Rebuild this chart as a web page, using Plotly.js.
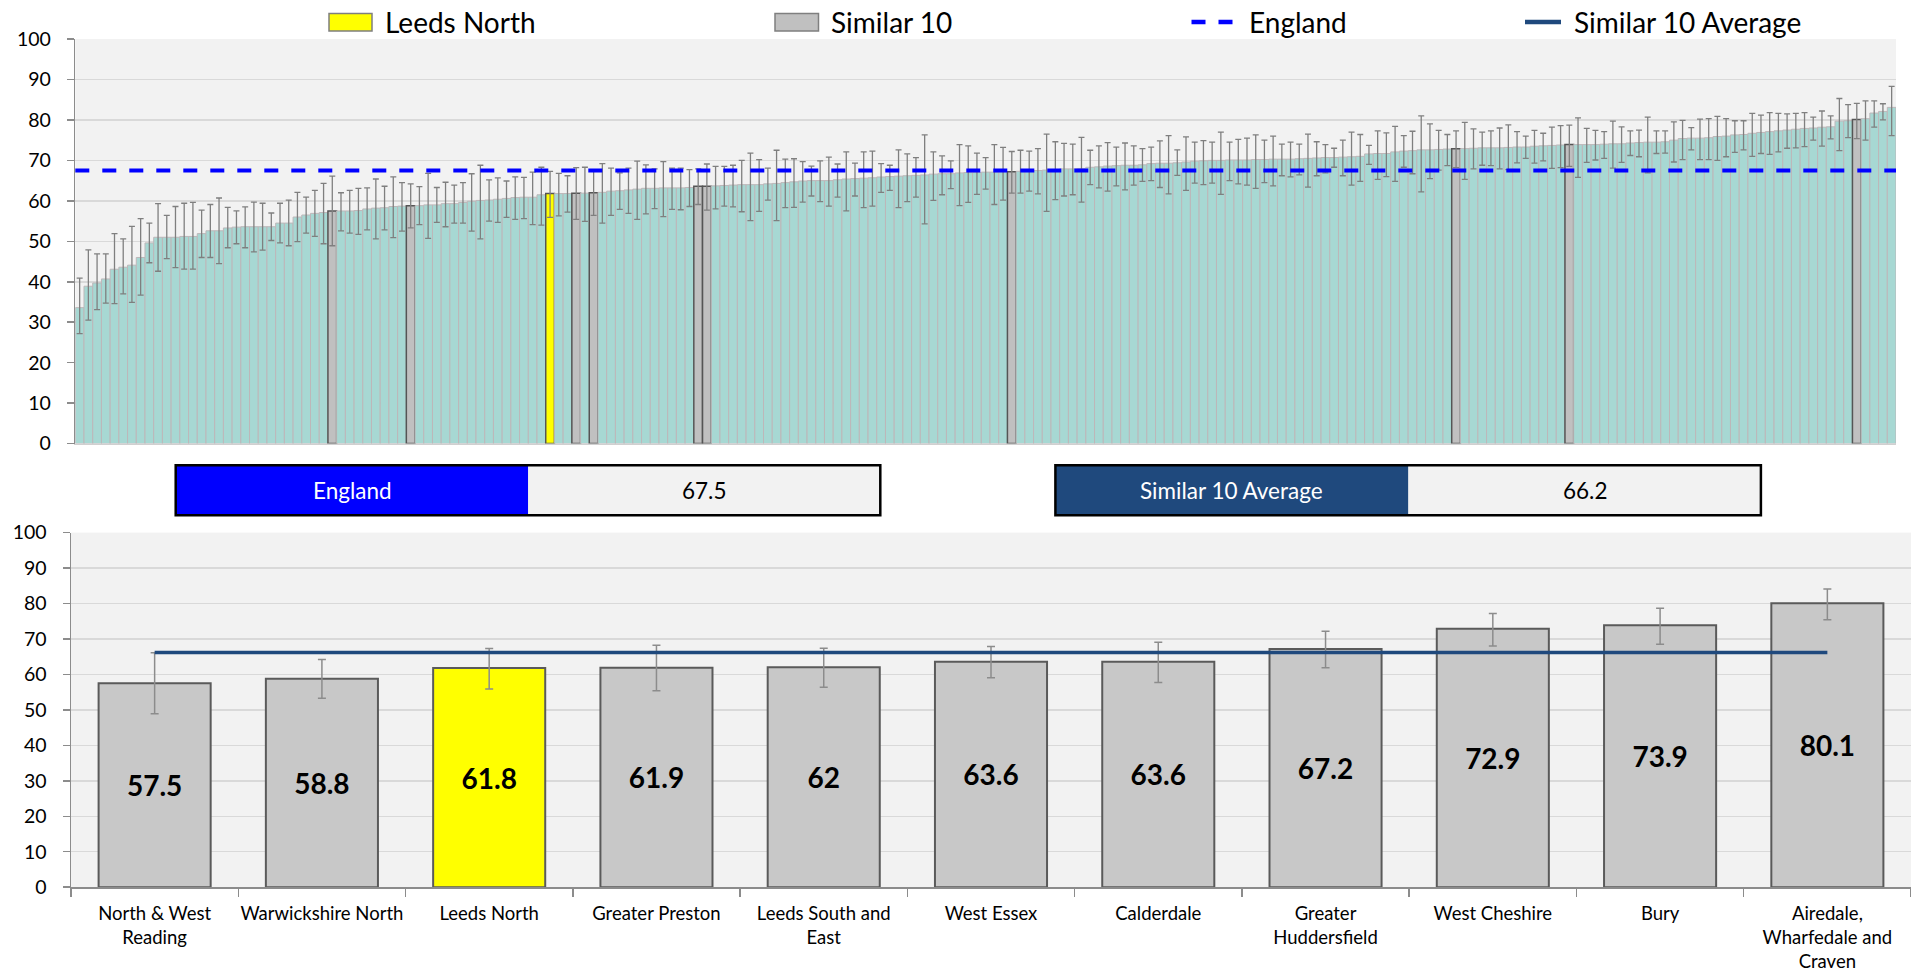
<!DOCTYPE html>
<html>
<head>
<meta charset="utf-8">
<script src="https://cdn.plot.ly/plotly-3.0.1.min.js"></script>
<style>html,body{margin:0;padding:0;background:#fff;}#chart{width:1911px;height:974px;}</style>
</head>
<body>
<div id="chart"></div>
<script>
// ---------- DATA ----------
// All CCGs in England, ranked ascending (value, lower CI, upper CI)
const englandValues = [
33.6,38.9,39.7,40.7,43.1,43.6,44.1,46.0,49.6,51.0,51.0,51.0,51.2,51.2,51.9,52.6,52.6,53.3,53.5,53.6,
53.6,53.6,53.6,54.5,54.5,56.0,56.5,56.9,57.1,57.5,57.5,57.5,57.6,58.0,58.2,58.3,58.6,58.7,58.8,58.8,
59.0,59.0,59.3,59.3,59.6,59.9,60.1,60.2,60.4,60.6,60.8,60.9,60.9,61.5,61.8,61.8,61.8,61.9,61.9,62.0,
62.1,62.4,62.5,62.7,62.9,63.1,63.1,63.2,63.2,63.2,63.3,63.6,63.6,63.7,63.8,63.9,64.0,64.0,64.0,64.2,
64.3,64.5,64.7,64.9,65.0,65.0,65.0,65.2,65.4,65.5,65.6,65.7,65.9,66.0,66.1,66.2,66.3,66.4,66.6,66.7,
66.7,66.9,67.0,67.0,67.1,67.1,67.2,67.2,67.3,67.4,67.5,67.6,67.7,67.9,67.9,68.0,68.3,68.4,68.6,68.7,
68.8,68.8,68.9,69.2,69.3,69.3,69.4,69.6,69.8,69.9,70.0,70.0,70.1,70.1,70.1,70.2,70.2,70.3,70.3,70.3,
70.4,70.5,70.6,70.7,70.7,70.8,70.9,71.0,71.6,71.7,71.7,72.1,72.3,72.4,72.6,72.6,72.7,72.8,72.9,72.9,
73.0,73.1,73.1,73.1,73.2,73.3,73.3,73.5,73.6,73.7,73.8,73.9,73.9,73.9,73.9,74.0,74.1,74.1,74.3,74.4,
74.5,74.5,74.6,75.0,75.4,75.5,75.5,75.6,75.9,76.0,76.3,76.4,76.7,76.9,77.1,77.3,77.5,77.7,77.9,78.0,
78.2,78.3,79.7,79.8,80.1,80.3,81.7,82.1,83.1
];
const englandLower = [
27.2,30.5,33.1,34.7,34.6,37.0,34.9,36.7,44.7,42.6,45.7,43.5,43.1,43.1,46.0,46.0,44.5,48.4,49.4,48.4,
47.4,47.8,50.2,49.6,48.9,49.9,52.0,51.2,49.4,48.9,52.6,52.0,51.7,52.8,50.6,52.8,50.9,52.5,53.3,54.1,
50.7,54.7,53.6,54.5,54.5,52.5,50.6,55.0,54.7,55.9,55.4,55.6,54.1,54.0,55.9,56.3,57.2,55.4,54.9,56.4,
54.5,56.4,57.9,56.9,55.4,56.8,58.1,56.1,57.9,57.8,58.6,59.1,57.7,58.0,58.7,58.5,57.3,55.1,57.4,60.2,
55.1,58.3,58.4,59.7,61.2,59.8,58.7,60.9,57.5,61.2,58.3,58.7,62.1,62.6,58.3,59.8,60.9,54.3,60.1,61.5,
63.0,58.8,59.6,61.6,62.9,59.1,60.2,61.9,61.9,62.4,61.7,57.4,60.3,61.2,61.5,59.7,64.0,63.2,62.4,63.7,
62.7,63.9,64.8,65.0,63.3,61.7,66.3,62.6,64.4,64.0,64.4,61.6,65.0,64.2,63.9,63.1,64.5,63.7,66.2,65.9,
66.4,63.4,66.2,66.9,68.3,66.2,63.9,64.8,69.0,65.3,66.0,64.8,68.3,66.7,62.2,65.5,67.6,68.7,68.2,65.3,
67.9,68.8,68.7,67.9,67.7,69.4,70.5,69.3,69.9,68.0,68.2,68.5,65.8,69.5,70.1,70.5,68.1,69.5,71.2,70.9,
66.9,71.7,71.8,69.6,70.2,72.6,70.2,70.2,70.0,70.9,72.0,72.6,71.0,71.7,71.5,72.1,73.0,73.1,73.4,75.0,
73.5,75.3,72.4,75.6,75.4,75.0,78.2,80.0,76.1
];
const englandUpper = [
40.9,47.9,46.9,46.9,51.9,50.6,53.7,55.6,54.5,59.3,56.4,58.6,59.4,59.6,57.7,59.1,60.7,58.4,57.5,58.5,
59.7,59.4,57.0,59.4,60.2,62.1,60.9,62.6,64.3,66.1,62.0,62.6,63.1,63.2,65.4,63.6,65.9,64.5,64.2,63.5,
66.8,63.3,64.6,63.9,64.5,66.7,68.8,65.2,65.7,64.9,65.9,65.8,67.1,68.3,67.3,66.8,66.2,68.2,68.3,67.4,
69.2,68.1,66.9,68.1,69.8,68.9,67.9,69.7,68.1,68.1,67.7,67.9,69.1,68.5,68.5,68.8,70.0,71.8,70.2,68.1,
72.5,70.3,70.4,69.7,68.6,69.9,70.8,69.1,72.1,69.3,72.1,72.3,69.2,68.8,72.6,71.6,70.7,76.3,72.1,71.1,
69.9,73.9,73.6,71.8,70.7,73.9,73.2,72.2,72.5,72.3,72.9,76.5,74.6,74.2,74.0,75.7,72.5,73.6,74.4,73.3,
74.3,73.6,72.9,73.3,74.8,76.1,72.6,75.8,74.5,74.9,74.5,77.0,74.5,75.2,75.5,76.3,75.0,76.0,74.0,74.5,
74.0,76.5,74.6,73.9,73.0,75.0,77.0,76.4,73.7,77.3,76.8,78.4,76.1,77.2,81.0,79.0,77.4,76.4,77.3,79.4,
77.8,77.0,77.3,78.0,78.8,77.1,76.0,77.4,76.7,78.2,78.6,78.7,80.5,77.9,77.4,77.1,79.7,78.3,77.3,77.5,
80.7,77.3,77.3,79.5,79.9,78.1,80.2,80.3,80.9,80.3,79.8,79.8,81.6,81.2,81.8,81.6,81.5,81.6,81.8,80.7,
82.2,81.0,85.3,83.8,84.1,84.7,84.7,84.0,88.3
];
// Rank position (0-based) of the focus CCG and its similar 10 within the England ranking
const focusRank = 54;
const similarRanks = [29, 38, 57, 59, 71, 72, 107, 158, 171, 204];

// Similar 10 comparison
const similarNames = ["North & West Reading","Warwickshire North","Leeds North","Greater Preston",
  "Leeds South and East","West Essex","Calderdale","Greater Huddersfield","West Cheshire","Bury",
  "Airedale, Wharfedale and Craven"];
const similarTickLabels = ["North & West<br>Reading","Warwickshire North","Leeds North","Greater Preston",
  "Leeds South and<br>East","West Essex","Calderdale","Greater<br>Huddersfield","West Cheshire","Bury",
  "Airedale,<br>Wharfedale and<br>Craven"];
const similarValues = [57.5, 58.8, 61.8, 61.9, 62, 63.6, 63.6, 67.2, 72.9, 73.9, 80.1];
const similarLower  = [48.9, 53.3, 55.9, 55.4, 56.4, 59.1, 57.7, 61.9, 68.0, 68.5, 75.4];
const similarUpper  = [66.1, 64.2, 67.3, 68.2, 67.4, 67.9, 69.1, 72.2, 77.2, 78.7, 84.1];
const focusName = "Leeds North";

const englandValue = 67.5;
const similarAverage = 66.2;

// ---------- STYLE ----------
const W = 1911, H = 974;
const FONT = 'Lato, "Open Sans", "DejaVu Sans", sans-serif';
const TEAL = '#a7d8d3', GRAY = '#c0c0c0', YELLOW = '#ffff00', NAVY = '#1f497d', BLUE = '#0000ff';
const px = x => x / W;
const py = y => 1 - y / H;

// ---------- TRACES ----------
const n = englandValues.length;
const topX = englandValues.map((_, i) => i);
const topColors = englandValues.map((_, i) => i === focusRank ? YELLOW : (similarRanks.includes(i) ? GRAY : TEAL));
const topLineColors = englandValues.map((_, i) => (i === focusRank || similarRanks.includes(i)) ? '#555555' : '#bdb7b9');
const topLineWidths = englandValues.map((_, i) => (i === focusRank || similarRanks.includes(i)) ? 1.5 : 1);

const topBars = {
  type: 'bar', x: topX, y: englandValues, xaxis: 'x', yaxis: 'y', width: 1,
  marker: { color: topColors, line: { color: topLineColors, width: topLineWidths } },
  error_y: { type: 'data', symmetric: false,
    array: englandUpper.map((u, i) => u - englandValues[i]),
    arrayminus: englandLower.map((l, i) => englandValues[i] - l),
    color: '#7f7f7f', thickness: 1.3, width: 3 },
  showlegend: false, hoverinfo: 'y'
};

const bottomBars = {
  type: 'bar', x: similarNames, y: similarValues, xaxis: 'x2', yaxis: 'y2', width: 0.67,
  marker: { color: similarNames.map(nm => nm === focusName ? YELLOW : '#c8c8c8'),
            line: { color: '#5a5a5a', width: 2 } },
  text: similarValues.map(v => String(v)), textposition: 'inside', insidetextanchor: 'middle',
  textangle: 0, constraintext: 'none',
  textfont: { family: FONT, size: 28, color: '#000000', weight: 'bold' },
  error_y: { type: 'data', symmetric: false,
    array: similarUpper.map((u, i) => u - similarValues[i]),
    arrayminus: similarLower.map((l, i) => similarValues[i] - l),
    color: '#8c8c8c', thickness: 1.5, width: 4 },
  showlegend: false, hoverinfo: 'x+y'
};

const avgLine = {
  type: 'scatter', mode: 'lines', xaxis: 'x2', yaxis: 'y2',
  x: [similarNames[0], similarNames[similarNames.length - 1]],
  y: [similarAverage, similarAverage],
  line: { color: NAVY, width: 3.5 }, showlegend: false, hoverinfo: 'y'
};

// ---------- LAYOUT ----------
const axisY = {
  range: [0, 100], dtick: 10, tick0: 0, showgrid: true, gridcolor: '#d9d9d9', gridwidth: 1.5,
  showline: true, linecolor: '#8c8c8c', linewidth: 1.5, ticks: 'outside', ticklen: 7,
  tickcolor: '#8c8c8c', tickwidth: 1.5, zeroline: false, fixedrange: true,
  tickfont: { family: FONT, size: 19.5, color: '#000000' }, ticklabelstandoff: 12
};

const shapes = [
  // England reference line (top chart)
  { type: 'line', xref: 'x domain', yref: 'y', x0: 0, x1: 1, y0: englandValue, y1: englandValue,
    line: { color: BLUE, width: 4, dash: '14px,13px' }, layer: 'above' },
  // Legend symbols
  { type: 'rect', xref: 'paper', yref: 'paper', x0: px(329), x1: px(372), y0: py(31), y1: py(13.5),
    fillcolor: YELLOW, line: { color: '#7f7f7f', width: 1.5 } },
  { type: 'rect', xref: 'paper', yref: 'paper', x0: px(775), x1: px(818.5), y0: py(31), y1: py(13.5),
    fillcolor: GRAY, line: { color: '#7f7f7f', width: 1.5 } },
  { type: 'line', xref: 'paper', yref: 'paper', x0: px(1191.5), x1: px(1233), y0: py(22), y1: py(22),
    line: { color: BLUE, width: 4.5, dash: '14px,13px' } },
  { type: 'line', xref: 'paper', yref: 'paper', x0: px(1525), x1: px(1561), y0: py(22), y1: py(22),
    line: { color: NAVY, width: 4.5 } },
  // Summary tables
  { type: 'rect', xref: 'paper', yref: 'paper', x0: px(175.7), x1: px(528.2), y0: py(515.3), y1: py(465.3),
    fillcolor: BLUE, line: { width: 0 } },
  { type: 'rect', xref: 'paper', yref: 'paper', x0: px(528.2), x1: px(880.3), y0: py(515.3), y1: py(465.3),
    fillcolor: '#f2f2f2', line: { width: 0 } },
  { type: 'rect', xref: 'paper', yref: 'paper', x0: px(175.7), x1: px(880.3), y0: py(515.3), y1: py(465.3),
    fillcolor: 'rgba(0,0,0,0)', line: { color: '#000000', width: 2.5 } },
  { type: 'rect', xref: 'paper', yref: 'paper', x0: px(1055.4), x1: px(1408.4), y0: py(515.3), y1: py(465.3),
    fillcolor: NAVY, line: { width: 0 } },
  { type: 'rect', xref: 'paper', yref: 'paper', x0: px(1408.4), x1: px(1760.9), y0: py(515.3), y1: py(465.3),
    fillcolor: '#f2f2f2', line: { width: 0 } },
  { type: 'rect', xref: 'paper', yref: 'paper', x0: px(1055.4), x1: px(1760.9), y0: py(515.3), y1: py(465.3),
    fillcolor: 'rgba(0,0,0,0)', line: { color: '#000000', width: 2.5 } }
];

const legendFont = { family: FONT, size: 28, color: '#000000' };
const tableFont = { family: FONT, size: 22.5, color: '#000000' };
const ann = (text, x, y, font, anchor) => ({ text, x: px(x), y: py(y), xref: 'paper', yref: 'paper',
  xanchor: anchor || 'left', yanchor: 'middle', showarrow: false, font });
const annotations = [
  ann(focusName, 383, 21.5, legendFont),
  ann('Similar 10', 829, 21.5, legendFont),
  ann('England', 1247, 21.5, legendFont),
  ann('Similar 10 Average', 1572, 21.5, legendFont),
  ann('England', 352, 490.3, Object.assign({}, tableFont, { color: '#ffffff' }), 'center'),
  ann(String(englandValue), 704.2, 490.3, tableFont, 'center'),
  ann('Similar 10 Average', 1231.9, 490.3, Object.assign({}, tableFont, { color: '#ffffff' }), 'center'),
  ann(String(similarAverage), 1584.6, 490.3, tableFont, 'center')
];

const layout = {
  width: W, height: H, autosize: false,
  margin: { l: 0, r: 0, t: 0, b: 0, pad: 0 },
  paper_bgcolor: '#ffffff', plot_bgcolor: '#f2f2f2',
  font: { family: FONT, color: '#000000' },
  showlegend: false, hovermode: 'closest',
  xaxis: { domain: [px(75.3), px(1896)], range: [-0.5, n - 0.5], anchor: 'y',
    showticklabels: false, ticks: '', showgrid: false, zeroline: false,
    showline: true, linecolor: '#d0d0d0', linewidth: 1.5, fixedrange: true },
  yaxis: Object.assign({}, axisY, { domain: [py(443.6), py(39)], anchor: 'x' }),
  xaxis2: { domain: [px(71), 1], anchor: 'y2', type: 'category',
    tickvals: similarNames, ticktext: similarTickLabels, tickangle: 0,
    ticks: 'outside', tickson: 'boundaries', ticklen: 8, tickcolor: '#8c8c8c', tickwidth: 1.5,
    showline: true, linecolor: '#8c8c8c', linewidth: 1.5, showgrid: false, zeroline: false, fixedrange: true,
    tickfont: { family: FONT, size: 18.5, color: '#000000' }, ticklabelstandoff: 9 },
  yaxis2: Object.assign({}, axisY, { domain: [py(887.2), py(532.6)], anchor: 'x2' }),
  shapes, annotations
};

Plotly.newPlot('chart', [topBars, bottomBars, avgLine], layout, { displayModeBar: false, staticPlot: true });
</script>
</body>
</html>
